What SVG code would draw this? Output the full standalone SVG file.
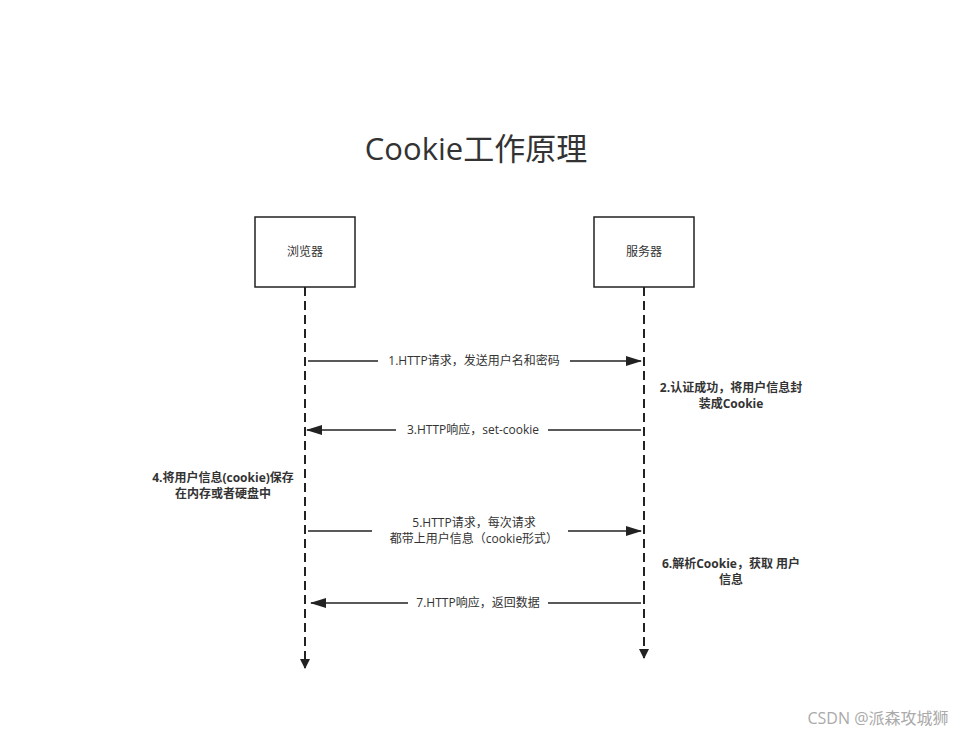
<svg xmlns="http://www.w3.org/2000/svg" width="978" height="736" viewBox="0 0 978 736">
<style>
text{font-family:"Open Sans","Noto Sans CJK SC",sans-serif;fill:#333}
.box{fill:#fff;stroke:#222;stroke-width:1.5}
.life{stroke:#222;stroke-width:2;stroke-dasharray:9 5;fill:none}
.msg{stroke:#222;stroke-width:1.5;fill:none}
.lbl{font-size:12px;text-anchor:middle}
.note{font-size:12px;font-weight:bold;text-anchor:middle}
</style>
<defs>
<marker id="ah" viewBox="0 0 10 10" refX="9" refY="5" markerWidth="10" markerHeight="10" markerUnits="userSpaceOnUse" orient="auto"><path d="M0,0 L10,5 L0,10 Z" fill="#222"/></marker>
<marker id="ah2" viewBox="0 0 16 10" refX="15" refY="5" markerWidth="16" markerHeight="10" markerUnits="userSpaceOnUse" orient="auto"><path d="M0,0 L16,5 L0,10 Z" fill="#222"/></marker>
</defs>
<rect width="978" height="736" fill="#fff"/>
<text x="476" y="160" font-size="31" text-anchor="middle">Cookie工作原理</text>
<g id="browser"><rect class="box" x="255" y="217" width="100" height="70"/><text class="lbl" x="305" y="256">浏览器</text></g>
<g id="server"><rect class="box" x="594" y="217" width="100" height="70"/><text class="lbl" x="644" y="256">服务器</text></g>
<g id="connectors">
<line class="life" x1="305" y1="287" x2="305" y2="668" marker-end="url(#ah)"/>
<line class="life" x1="644" y1="287" x2="644" y2="658" marker-end="url(#ah)"/>
<line class="msg" x1="308" y1="361" x2="641" y2="361" marker-end="url(#ah2)"/>
<line class="msg" x1="641" y1="430" x2="307" y2="430" marker-end="url(#ah2)"/>
<line class="msg" x1="308" y1="531" x2="641" y2="531" marker-end="url(#ah2)"/>
<line class="msg" x1="641" y1="603" x2="311" y2="603" marker-end="url(#ah2)"/>
</g>
<g id="labels">
<rect x="378" y="353" width="192" height="16" fill="#fff"/><text class="lbl" x="474" y="365">1.HTTP请求，发送用户名和密码</text>
<rect x="396" y="422" width="152" height="16" fill="#fff"/><text class="lbl" x="473" y="434">3.HTTP响应，set-cookie</text>
<rect x="372" y="514" width="196" height="34" fill="#fff"/><text class="lbl" x="474" y="527">5.HTTP请求，每次请求</text><text class="lbl" x="474" y="543">都带上用户信息（cookie形式）</text>
<rect x="408" y="595" width="140" height="16" fill="#fff"/><text class="lbl" x="478" y="607">7.HTTP响应，返回数据</text>
</g>
<g id="notes">
<text class="note" x="731" y="392">2.认证成功，将用户信息封</text><text class="note" x="731" y="408">装成Cookie</text>
<text class="note" x="223" y="482">4.将用户信息(cookie)保存</text><text class="note" x="223" y="498">在内存或者硬盘中</text>
<text class="note" x="731" y="568">6.解析Cookie，获取 用户</text><text class="note" x="731" y="584">信息</text>
</g>
<text x="878" y="724" font-size="16" fill="#aaa" style="fill:#aaa" text-anchor="middle">CSDN @派森攻城狮</text>
</svg>
